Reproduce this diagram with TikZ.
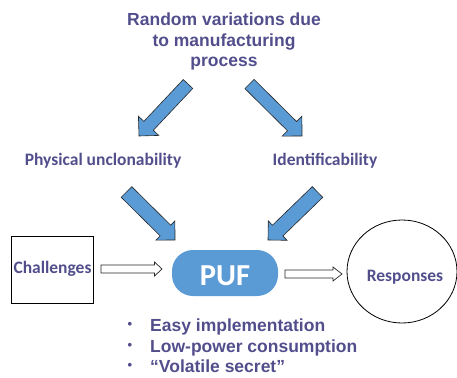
\documentclass[tikz,border=0pt]{standalone}
\usepackage{fontspec}
\setmainfont{Liberation Sans}
\newfontfamily\calibri{Carlito}
\usetikzlibrary{calc,shapes.geometric}
\definecolor{txtc}{RGB}{82,78,140}
\definecolor{pufblue}{RGB}{91,155,213}
\tikzset{
  fatstyle/.style={fill=pufblue,draw=black!85,line width=0.6pt,line join=miter},
  hollowstyle/.style={fill=white,draw=black!85,line width=0.7pt,line join=miter},
  arialtxt/.style={font=\fontsize{17.5}{20.7}\selectfont\bfseries,text=txtc,inner sep=0pt},
  bullettxt/.style={font=\fontsize{13}{15}\selectfont\bfseries,text=txtc,inner sep=0pt},
  calibtxt/.style={font=\calibri\fontsize{17.5}{21}\selectfont\bfseries,text=txtc,inner sep=0pt},
}
% #1 style, #2 tail, #3 tip, #4 shaft half width, #5 head half width, #6 head length
\newcommand{\fatarrow}[6]{%
  \coordinate (fa-h) at ($(#3)!#6!(#2)$);
  \draw[#1] ($(#2)!#4!90:(#3)$) -- ($(fa-h)!#4!90:(#3)$) -- ($(fa-h)!#5!90:(#3)$) -- (#3)
    -- ($(fa-h)!#5!-90:(#3)$) -- ($(fa-h)!#4!-90:(#3)$) -- ($(#2)!#4!-90:(#3)$) -- cycle;}
\begin{document}
\begin{tikzpicture}[x=1pt,y=-1pt]
\useasboundingbox (0,0) rectangle (457,377);
% title
\node[arialtxt,anchor=base] (title) at (224,25.3) {Random variations due};
\node[arialtxt,anchor=base] (title2) at (224,46.7) {to manufacturing};
\node[arialtxt,anchor=base] (title3) at (224,66.7) {process};
% labels
\node[calibtxt,anchor=base] (phys) at (103,165) {Physical unclonability};
\node[calibtxt,anchor=base] (ident) at (325,165) {Identificability};
% challenges box
\node[draw=black,line width=0.8pt,minimum width=81.5pt,minimum height=67pt,inner sep=0pt] (chal) at (52.5,269.7) {};
\node[calibtxt,anchor=base] (chaltxt) at (52.5,273.3) {Challenges};
% PUF
\node[fill=pufblue,rounded corners=21pt,minimum width=106pt,minimum height=46pt,inner sep=0pt] (puf) at (225,273) {};
\node[font=\calibri\fontsize{30.5}{32}\selectfont\bfseries,text=white,inner sep=0pt,anchor=base] (puftxt) at (225,285.7) {PUF};
% responses
\node[draw=black,line width=0.8pt,ellipse,minimum width=110pt,minimum height=103pt,inner sep=0pt] (resp) at (402,271.5) {};
\node[calibtxt,anchor=base] (resptxt) at (405,281.7) {Responses};
% bullets
\node[bullettxt] (b1) at (130,325) {•};
\node[bullettxt] (b2) at (130,346) {•};
\node[bullettxt] (b3) at (130,366.5) {•};
\node[arialtxt,anchor=base west] (l1) at (150,331) {Easy implementation};
\node[arialtxt,anchor=base west] (l2) at (150,352) {Low-power consumption};
\node[arialtxt,anchor=base west] (l3) at (150,372) {“Volatile secret”};
% arrow end points
\coordinate (ul-t) at (188,84);   \coordinate (ul-p) at (139,136);
\coordinate (ur-t) at (249.5,84); \coordinate (ur-p) at (302,136);
\coordinate (ll-t) at (126.5,192);\coordinate (ll-p) at (175,240);
\coordinate (lr-t) at (317.5,192);\coordinate (lr-p) at (268,240);
\coordinate (hl-t) at (101,269);  \coordinate (hl-p) at (162,269);
\coordinate (hr-t) at (285,274);  \coordinate (hr-p) at (342,274);
\fatarrow{fatstyle}{ul-t}{ul-p}{6.5pt}{14pt}{14pt}
\fatarrow{fatstyle}{ur-t}{ur-p}{6.5pt}{14pt}{14pt}
\fatarrow{fatstyle}{ll-t}{ll-p}{7.5pt}{13.5pt}{13.5pt}
\fatarrow{fatstyle}{lr-t}{lr-p}{7.5pt}{13.5pt}{13.5pt}
\fatarrow{hollowstyle}{hl-t}{hl-p}{4pt}{7pt}{7.5pt}
\fatarrow{hollowstyle}{hr-t}{hr-p}{4pt}{7pt}{9pt}
\end{tikzpicture}
\end{document}
